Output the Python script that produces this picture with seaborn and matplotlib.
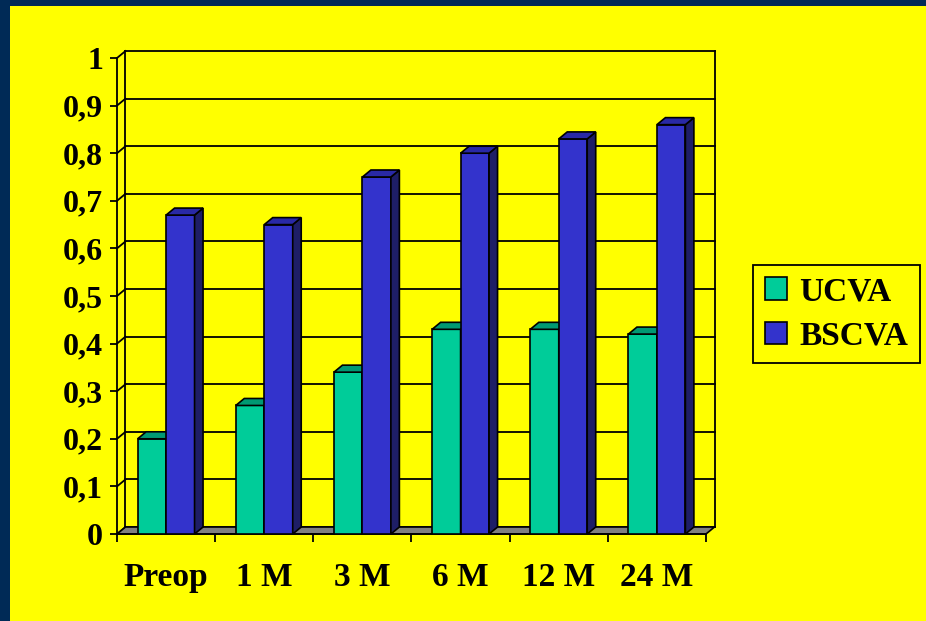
import numpy as np
import pandas as pd
import matplotlib
matplotlib.use("Agg")
import matplotlib.pyplot as plt
from matplotlib.patches import Polygon, Rectangle, Patch
import seaborn as sns

# data
periods = ["Preop", "1 M", "3 M", "6 M", "12 M", "24 M"]
series = ["UCVA", "BSCVA"]
ucva = [0.20, 0.27, 0.34, 0.43, 0.43, 0.42]
bscva = [0.67, 0.65, 0.75, 0.80, 0.83, 0.86]
y_ticks = [0, 0.1, 0.2, 0.3, 0.4, 0.5, 0.6, 0.7, 0.8, 0.9, 1.0]
y_labels = ["0", "0,1", "0,2", "0,3", "0,4", "0,5", "0,6", "0,7", "0,8", "0,9", "1"]

df = pd.DataFrame({
    "period": periods * 2,
    "series": [series[0]] * len(ucva) + [series[1]] * len(bscva),
    "value": ucva + bscva,
})

navy = "#002A56"
yellow = "#FFFF00"
front_cols = ["#00CC99", "#3333CC"]
top_cols = ["#009973", "#2929A6"]
side_cols = ["#007A5C", "#1E1E66"]

plt.rcParams["font.family"] = "Liberation Serif"
plt.rcParams["font.weight"] = "bold"

W, H = 926, 621
fig = plt.figure(figsize=(W / 100, H / 100), dpi=100, facecolor=navy)
fig.add_artist(Rectangle((10 / W, 0), 1 - 10 / W, 1 - 6 / H, transform=fig.transFigure,
                         facecolor=yellow, edgecolor="none", zorder=-5))

# front plane of the 3d box
ax = fig.add_axes([117 / W, 87 / H, 589 / W, 476 / H])
ax.set_facecolor("none")

sns.barplot(data=df, x="period", y="value", hue="series", palette=front_cols,
            width=0.58, saturation=1, edgecolor="black", linewidth=1.2,
            legend=False, ax=ax)
ax.set_xlim(-0.5, len(periods) - 0.5)
ax.set_ylim(0, 1)

# depth offset in data units (about 8.5 px right, 7 px up)
dx = 8.5 * len(periods) / 589
dy = 7 / 476
x_lo, x_hi = -0.5, len(periods) - 0.5

# back wall, left wall and floor
for t in y_ticks:
    ax.plot([x_lo + dx, x_hi + dx], [t + dy, t + dy], color="black", lw=1.3, zorder=1, clip_on=False)
    ax.plot([x_lo, x_lo + dx], [t, t + dy], color="black", lw=1.3, zorder=1, clip_on=False)
for xv in [x_lo + dx, x_hi + dx]:
    ax.plot([xv, xv], [dy, 1 + dy], color="black", lw=1.3, zorder=1, clip_on=False)
ax.add_patch(Polygon([(x_lo, 0), (x_hi, 0), (x_hi + dx, dy), (x_lo + dx, dy)],
                     closed=True, facecolor="#808080", edgecolor="black", lw=1.2,
                     zorder=2, clip_on=False))

# fake 3d faces on every bar
n = len(periods)
for i, p in enumerate(list(ax.patches)):
    if i >= 2 * n:
        break
    k = i // n
    z = 3 + k
    p.set_zorder(z)
    x0, w, h = p.get_x(), p.get_width(), p.get_height()
    top = [(x0, h), (x0 + w, h), (x0 + w + dx, h + dy), (x0 + dx, h + dy)]
    side = [(x0 + w, 0), (x0 + w + dx, dy), (x0 + w + dx, h + dy), (x0 + w, h)]
    ax.add_patch(Polygon(side, closed=True, facecolor=side_cols[k], edgecolor="black",
                         lw=1.2, zorder=z, clip_on=False))
    ax.add_patch(Polygon(top, closed=True, facecolor=top_cols[k], edgecolor="black",
                         lw=1.2, zorder=z, clip_on=False))

for s in ["top", "right"]:
    ax.spines[s].set_visible(False)
for s in ["left", "bottom"]:
    ax.spines[s].set_linewidth(1.3)
    ax.spines[s].set_zorder(2.5)

ax.set_yticks(y_ticks)
ax.set_yticklabels(y_labels, fontsize=23, fontweight="bold")
ax.set_xticks(range(n))
ax.set_xticklabels(periods, fontsize=24, fontweight="bold")
ax.set_xticks(np.arange(-0.5, n, 1), minor=True)
ax.tick_params(axis="y", length=5, width=1.3, pad=5, color="black")
ax.tick_params(axis="x", which="major", length=0, pad=20)
ax.tick_params(axis="x", which="minor", length=6, width=1.3, color="black")
ax.set_xlabel("")
ax.set_ylabel("")

handles = [Patch(facecolor=c, edgecolor="black", linewidth=1.2) for c in front_cols]
leg = ax.legend(handles, series, loc="center left", bbox_to_anchor=(753 / W, 1 - 314 / H),
                bbox_transform=fig.transFigure, prop={"size": 24, "weight": "bold"},
                frameon=True, fancybox=False, edgecolor="black", facecolor=yellow,
                framealpha=1, handlelength=0.67, handleheight=0.67, handletextpad=0.36,
                borderpad=0.35, labelspacing=0.4, borderaxespad=0)
leg.get_frame().set_linewidth(1.3)

fig.savefig("out.png", dpi=100, facecolor=fig.get_facecolor())
